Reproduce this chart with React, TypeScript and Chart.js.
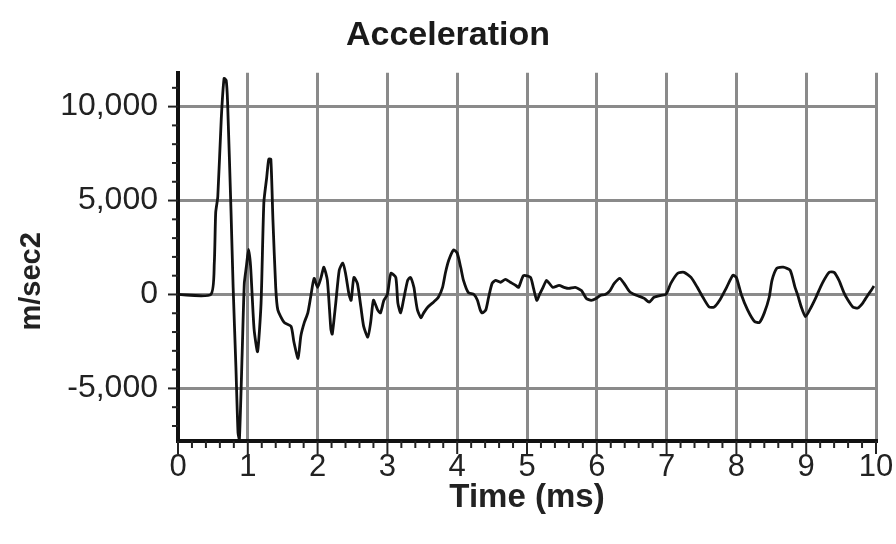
import React, { useEffect, useRef } from "react";
import { Chart, registerables } from "chart.js";

Chart.register(...registerables);

const chartTitle = "Acceleration";
const xAxisTitle = "Time (ms)";
const yAxisTitle = "m/sec2";

const xTickValues = [0, 1, 2, 3, 4, 5, 6, 7, 8, 9, 10];
const yTickValues = [-5000, 0, 5000, 10000];

const timeMs = [
  0, 0.47, 0.52, 0.54, 0.57, 0.62, 0.66, 0.69, 0.71, 0.76, 0.79, 0.83, 0.86, 0.88, 0.92,
  0.95, 0.98, 1.01, 1.04, 1.09, 1.14, 1.19, 1.23, 1.27, 1.3, 1.33, 1.36, 1.4, 1.43,
  1.52, 1.62, 1.66, 1.72, 1.76, 1.81, 1.86, 1.9, 1.95, 2.0, 2.05, 2.09, 2.14, 2.19,
  2.21, 2.26, 2.31, 2.36, 2.4, 2.45, 2.48, 2.52, 2.57, 2.62, 2.66, 2.72, 2.76, 2.8,
  2.86, 2.9, 2.95, 3.0, 3.05, 3.12, 3.15, 3.19, 3.23, 3.29, 3.33, 3.38, 3.4, 3.43,
  3.48, 3.52, 3.58, 3.66, 3.73, 3.79, 3.83, 3.88, 3.95, 4.0, 4.05, 4.09, 4.16, 4.24,
  4.29, 4.33, 4.36, 4.41, 4.45, 4.5, 4.55, 4.62, 4.69, 4.76, 4.84, 4.88, 4.95, 5.05,
  5.09, 5.14, 5.18, 5.23, 5.28, 5.32, 5.37, 5.46, 5.53, 5.6, 5.69, 5.78, 5.85, 5.92,
  5.99, 6.05, 6.12, 6.19, 6.25, 6.33, 6.39, 6.47, 6.54, 6.61, 6.68, 6.75, 6.82, 6.92,
  6.99, 7.06, 7.16, 7.25, 7.35, 7.44, 7.52, 7.61, 7.68, 7.76, 7.86, 7.95, 8.0, 8.07,
  8.16, 8.26, 8.33, 8.4, 8.47, 8.51, 8.58, 8.67, 8.77, 8.84, 8.88, 8.93, 8.99, 9.05,
  9.14, 9.23, 9.33, 9.4, 9.47, 9.54, 9.6, 9.67, 9.74, 9.81, 9.88, 9.93, 9.97,
];

const accel = [
  0, 0, 1670, 4360, 5200, 9360, 11500, 11400, 10270, 4360, 380, -3900, -7360, -7700, -3040,
  590, 1500, 2400, 1500, -1850, -3040, -460, 4900, 6200, 7200, 7200, 3980, 380, -820,
  -1490, -1700, -2520, -3400, -2210, -1490, -980, -150, 860, 380, 910, 1450, 750, -1850,
  -2110, -460, 1290, 1670, 1130, 0, -310, 910, 590, -670, -1700, -2270, -1490, -310,
  -820, -980, -310, 0, 1130, 910, -460, -980, -310, 750, 910, 380, -150, -820,
  -1240, -980, -670, -410, -150, 380, 1130, 1830, 2370, 2200, 1450, 750, 100, 0,
  -310, -820, -980, -820, -150, 590, 750, 650, 800, 650, 480, 380, 1000, 910,
  380, -310, 0, 380, 750, 590, 380, 480, 380, 320, 380, 210, -210, -310,
  -210, -50, 0, 210, 590, 860, 590, 150, 0, -100, -210, -410, -150, -50,
  0, 590, 1130, 1180, 910, 380, -150, -670, -670, -310, 380, 1020, 900, 0,
  -820, -1440, -1490, -980, -150, 750, 1400, 1450, 1290, 380, -50, -670, -1180, -820,
  -150, 590, 1180, 1180, 750, 100, -310, -670, -720, -460, -50, 210, 450,
];

const FONT = "'Liberation Sans', Arial, sans-serif";

const minorTickPlugin = {
  id: "minorTicks",
  afterDraw(chart: any) {
    const { ctx, scales, chartArea } = chart;
    const x = scales.x;
    const y = scales.y;
    ctx.save();
    ctx.strokeStyle = "#222";
    ctx.lineWidth = 2;
    for (let i = 0; i <= 50; i++) {
      const v = i / 5;
      const px = x.getPixelForValue(v);
      const len = i % 5 === 0 ? 13 : 7;
      ctx.beginPath();
      ctx.moveTo(px, chartArea.bottom);
      ctx.lineTo(px, chartArea.bottom + len);
      ctx.stroke();
    }
    for (let v = -7000; v <= 11000; v += 1000) {
      const py = y.getPixelForValue(v);
      const len = v % 5000 === 0 ? 10 : 6;
      ctx.beginPath();
      ctx.moveTo(chartArea.left, py);
      ctx.lineTo(chartArea.left - len, py);
      ctx.stroke();
    }
    // y-axis title, centred a little below the plot middle as in the reference
    ctx.translate(32, y.getPixelForValue(700));
    ctx.rotate(-Math.PI / 2);
    ctx.fillStyle = "#222";
    ctx.font = `bold 29px ${FONT}`;
    ctx.textAlign = "center";
    ctx.textBaseline = "middle";
    ctx.fillText(yAxisTitle, 0, 0);
    ctx.restore();
  },
};

export default function App() {
  const canvasRef = useRef<HTMLCanvasElement | null>(null);

  useEffect(() => {
    const canvas = canvasRef.current;
    if (!canvas) return;
    const chart = new Chart(canvas, {
      type: "line",
      data: {
        datasets: [
          {
            data: timeMs.map((t, i) => ({ x: t, y: accel[i] })),
            borderColor: "#111",
            borderWidth: 2.8,
            pointRadius: 0,
            tension: 0.2,
            fill: false,
          },
        ],
      },
      options: {
        responsive: false,
        animation: false,
        layout: { padding: { left: 0, right: 0, top: 0, bottom: 0 } },
        plugins: {
          legend: { display: false },
          tooltip: { enabled: false },
          title: {
            display: true,
            text: chartTitle,
            color: "#1a1a1a",
            font: { family: FONT, size: 34, weight: "bold", lineHeight: 1.2 },
            padding: { top: 15, bottom: 17 },
          },
        },
        scales: {
          x: {
            type: "linear",
            min: 0,
            max: 10,
            afterBuildTicks: (scale: any) => {
              scale.ticks = xTickValues.map((v) => ({ value: v }));
            },
            afterFit: (scale: any) => {
              scale.height = 103;
              scale.paddingRight = 20;
              scale.paddingLeft = 0;
            },
            grid: { color: "#8a8a8a", lineWidth: 3, drawTicks: false },
            border: { color: "#111", width: 4 },
            ticks: {
              color: "#222",
              font: { family: FONT, size: 31 },
              padding: 8,
              maxRotation: 0,
              autoSkip: false,
            },
            title: {
              display: true,
              text: xAxisTitle,
              color: "#222",
              font: { family: FONT, size: 33, weight: "bold" },
              padding: { top: 0, bottom: 26 },
            },
          },
          y: {
            type: "linear",
            min: -7800,
            max: 11800,
            afterBuildTicks: (scale: any) => {
              scale.ticks = yTickValues.map((v) => ({ value: v }));
            },
            afterFit: (scale: any) => {
              scale.width = 178;
            },
            grid: { color: "#8a8a8a", lineWidth: 3, drawTicks: false },
            border: { color: "#111", width: 4 },
            ticks: {
              color: "#222",
              font: { family: FONT, size: 32 },
              padding: 20,
              callback: (v: any) => Number(v).toLocaleString("en-US"),
            },
            title: { display: false },
          },
        },
      },
      plugins: [minorTickPlugin],
    });
    return () => chart.destroy();
  }, []);

  return (
    <div
      style={{
        position: "fixed",
        left: 0,
        top: 0,
        width: 896,
        height: 544,
        background: "#fff",
      }}
    >
      <canvas ref={canvasRef} width={896} height={544} style={{ display: "block" }} />
    </div>
  );
}
